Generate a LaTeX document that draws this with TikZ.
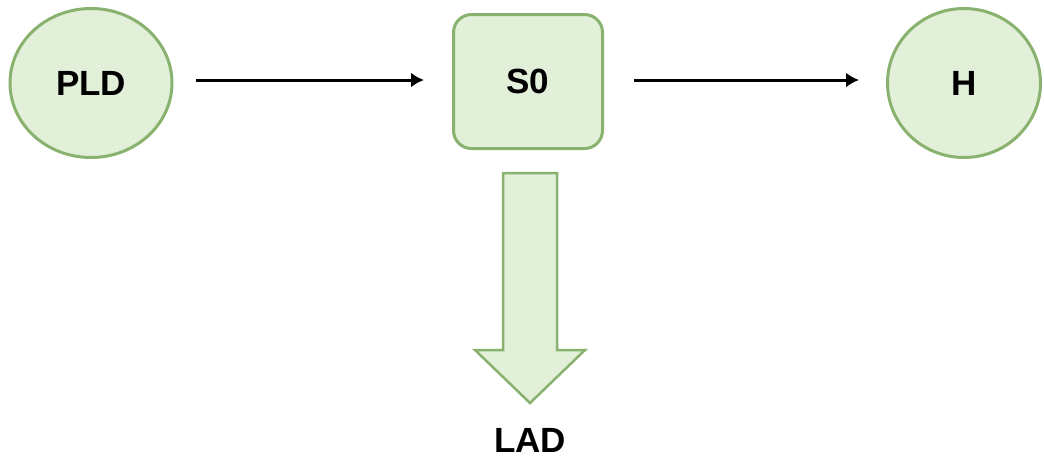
\documentclass[tikz,border=0pt]{standalone}
\usepackage{fontspec}
\setmainfont{Liberation Sans}
\usetikzlibrary{shapes.geometric,arrows.meta}
\definecolor{leafFill}{HTML}{E2F0DA}
\definecolor{leafLine}{HTML}{88B26E}
\tikzset{
  statecirc/.style={ellipse, draw=leafLine, fill=leafFill, line width=3pt, font=\bfseries\fontsize{35}{40}\selectfont},
  statebox/.style={rectangle, rounded corners=18pt, draw=leafLine, fill=leafFill, line width=3pt, font=\bfseries\fontsize{35}{40}\selectfont},
  flow/.style={line width=3pt, -{Latex[length=13pt,width=15pt]}}
}
\begin{document}
\begin{tikzpicture}[x=1pt,y=-1pt]
        \useasboundingbox (0,0) rectangle (1044,459);
        % States
        \node[statecirc, minimum width=162pt, minimum height=149pt] (pld) at (91,83) {PLD};
        \node[statebox, minimum width=149pt, minimum height=134pt] (s0) at (528,81.5) {S0};
        \node[statecirc, minimum width=153pt, minimum height=149pt] (h) at (964,83) {H};
        % Transitions
        \draw[flow, shorten <=22pt, shorten >=28pt] (pld.east |- 0,80) -- (s0.west |- 0,80);
        \draw[flow, shorten <=30pt, shorten >=27pt] (s0.east |- 0,80) -- (h.west |- 0,80);
        % Hollow arrow down to LAD
        \draw[draw=leafLine, fill=leafFill, line width=2.5pt, line join=miter]
          (503,173) -- (557,173) -- (557,350) -- (585,350) -- (530,403) -- (475,350) -- (503,350) -- cycle;
        \node[font=\bfseries\fontsize{35}{40}\selectfont] (lad) at (530,440) {LAD};
      \end{tikzpicture}
\end{document}
